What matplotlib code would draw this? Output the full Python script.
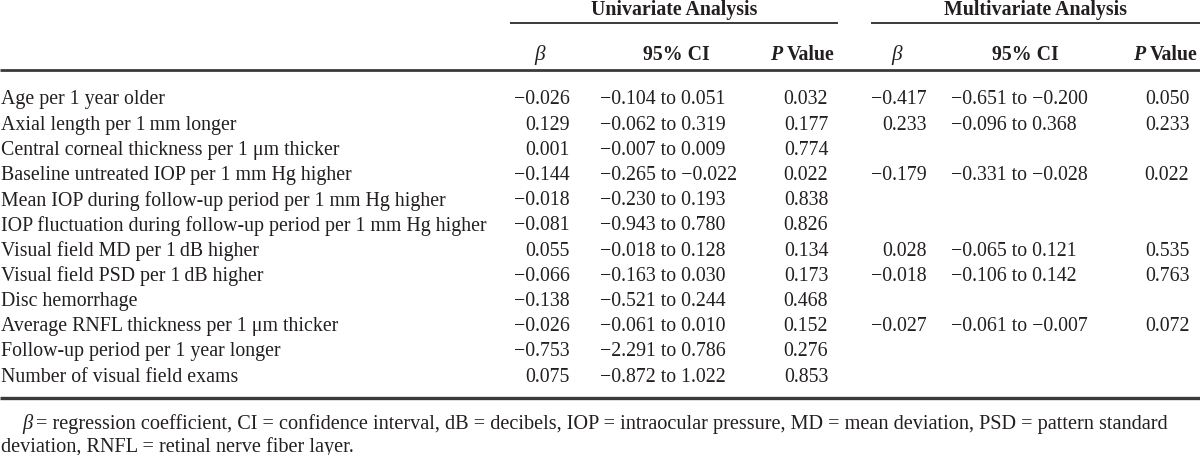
import matplotlib
matplotlib.use("Agg")
import matplotlib.pyplot as plt

# Table content
variables = [
    "Age per 1 year older",
    "Axial length per 1\u2009mm longer",
    "Central corneal thickness per 1 \u03bcm thicker",
    "Baseline untreated IOP per 1 mm Hg higher",
    "Mean IOP during follow-up period per 1 mm Hg higher",
    "IOP fluctuation during follow-up period per 1 mm Hg higher",
    "Visual field MD per 1\u2009dB higher",
    "Visual field PSD per 1\u2009dB higher",
    "Disc hemorrhage",
    "Average RNFL thickness per 1 \u03bcm thicker",
    "Follow-up period per 1 year longer",
    "Number of visual field exams",
]
uni_beta = ["\u22120.026", "0.129", "0.001", "\u22120.144", "\u22120.018", "\u22120.081",
            "0.055", "\u22120.066", "\u22120.138", "\u22120.026", "\u22120.753", "0.075"]
uni_ci = ["\u22120.104 to 0.051", "\u22120.062 to 0.319", "\u22120.007 to 0.009",
          "\u22120.265 to \u22120.022", "\u22120.230 to 0.193", "\u22120.943 to 0.780",
          "\u22120.018 to 0.128", "\u22120.163 to 0.030", "\u22120.521 to 0.244",
          "\u22120.061 to 0.010", "\u22122.291 to 0.786", "\u22120.872 to 1.022"]
uni_p = ["0.032", "0.177", "0.774", "0.022", "0.838", "0.826",
         "0.134", "0.173", "0.468", "0.152", "0.276", "0.853"]
multi_beta = ["\u22120.417", "0.233", "", "\u22120.179", "", "",
              "0.028", "\u22120.018", "", "\u22120.027", "", ""]
multi_ci = ["\u22120.651 to \u22120.200", "\u22120.096 to 0.368", "", "\u22120.331 to \u22120.028", "", "",
            "\u22120.065 to 0.121", "\u22120.106 to 0.142", "", "\u22120.061 to \u22120.007", "", ""]
multi_p = ["0.050", "0.233", "", "0.022", "", "",
           "0.535", "0.763", "", "0.072", "", ""]

footnote1 = ("= regression coefficient, CI = confidence interval, dB = decibels, "
             "IOP = intraocular pressure, MD = mean deviation, PSD = pattern standard")
footnote2 = "deviation, RNFL = retinal nerve fiber layer."

W, H = 1200, 456
fig = plt.figure(figsize=(12, 4.56), dpi=100)
ax = fig.add_axes([0, 0, 1, 1])
ax.set_xlim(0, W)
ax.set_ylim(H, 0)
ax.axis("off")

FONT = "Liberation Serif"
FS = 14.3
TXT = "#231f20"
LINE = "#3a3a3a"

# group headers
ax.text(674, 10, "Univariate Analysis", ha="center", va="center", fontsize=FS,
        fontweight="bold", family=FONT, color=TXT)
ax.text(1035, 10, "Multivariate Analysis", ha="center", va="center", fontsize=FS,
        fontweight="bold", family=FONT, color=TXT)
ax.plot([510, 838], [24, 24], color=LINE, lw=1.4, solid_capstyle="butt")
ax.plot([871, 1200], [24, 24], color=LINE, lw=1.4, solid_capstyle="butt")

# column headers
hy = 55
for bx, cx, pl in [(540, 676, 770), (897, 1025, 1133)]:
    ax.text(bx, hy, "\u03b2", ha="center", va="center", fontsize=FS + 1, style="italic",
            family=FONT, color=TXT)
    ax.text(cx, hy, "95% CI", ha="center", va="center", fontsize=FS, fontweight="bold",
            family=FONT, color=TXT)
    ax.text(pl, hy, "P", ha="left", va="center", fontsize=FS, fontweight="bold",
            style="italic", family=FONT, color=TXT)
    ax.text(pl + 17, hy, "Value", ha="left", va="center", fontsize=FS, fontweight="bold",
            family=FONT, color=TXT)

ax.plot([0, W], [71, 71], color=LINE, lw=2.0, solid_capstyle="butt")

# body rows
y0, dy = 100, 25.2
for i, name in enumerate(variables):
    y = y0 + i * dy
    ax.text(1, y, name, ha="left", va="center", fontsize=FS, family=FONT, color=TXT)
    ax.text(570, y, uni_beta[i], ha="right", va="center", fontsize=FS, family=FONT, color=TXT)
    ax.text(600, y, uni_ci[i], ha="left", va="center", fontsize=FS, family=FONT, color=TXT)
    ax.text(806, y, uni_p[i], ha="center", va="center", fontsize=FS, family=FONT, color=TXT)
    ax.text(927, y, multi_beta[i], ha="right", va="center", fontsize=FS, family=FONT, color=TXT)
    ax.text(951, y, multi_ci[i], ha="left", va="center", fontsize=FS, family=FONT, color=TXT)
    ax.text(1167, y, multi_p[i], ha="center", va="center", fontsize=FS, family=FONT, color=TXT)

ax.plot([0, W], [399, 399], color=LINE, lw=2.4, solid_capstyle="butt")

# footnote (italic beta, then the rest)
ax.text(22, 424, "\u03b2", ha="left", va="center", fontsize=14.8, style="italic",
        family=FONT, color=TXT)
ax.text(36, 424, footnote1, ha="left", va="center", fontsize=14.6, family=FONT, color=TXT)
ax.text(1, 447, footnote2, ha="left", va="center", fontsize=14.6, family=FONT, color=TXT)

fig.savefig("out.png", dpi=100, facecolor="white")
